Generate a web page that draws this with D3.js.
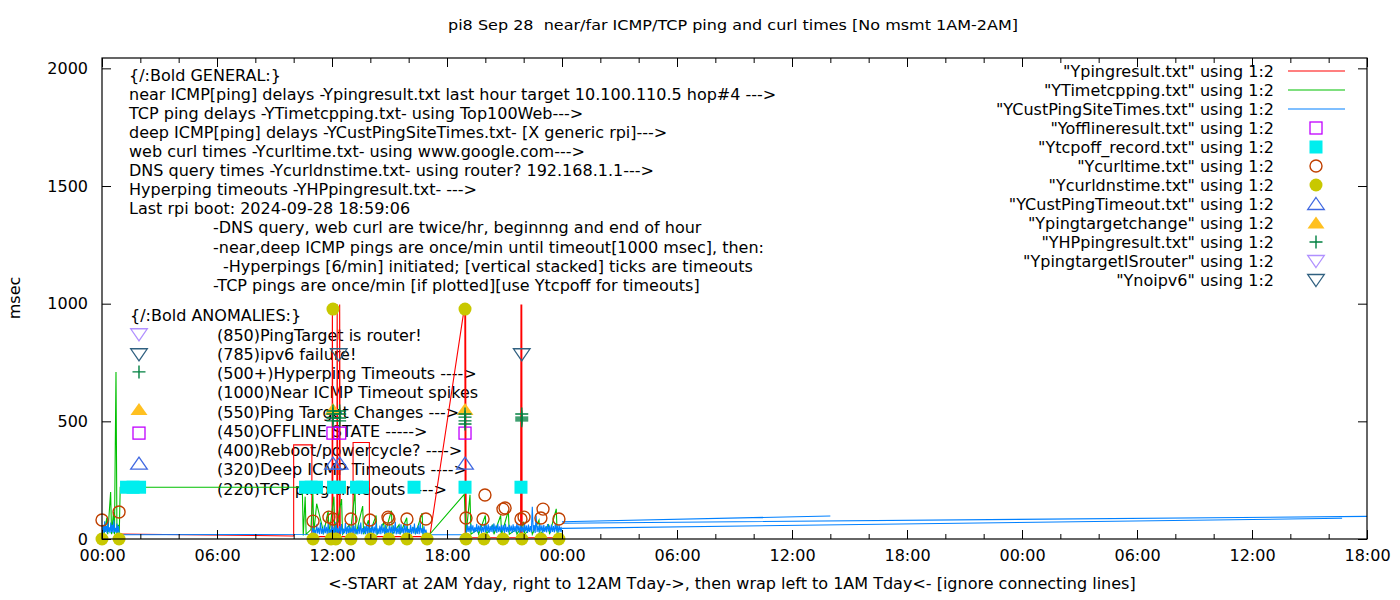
<!DOCTYPE html>
<html><head><meta charset="utf-8">
<script src="https://cdn.jsdelivr.net/npm/d3@7"></script>
<style>
body{margin:0;background:#fff;}
svg text{font-family:"DejaVu Sans",sans-serif;font-size:16px;fill:#000;white-space:pre;}
</style>
</head><body>
<svg id="c" width="1400" height="600"></svg>
<script>
// ---------- axis data ----------
const X_DOMAIN = [0, 66];          // hours from 00:00 Yday
const Y_DOMAIN = [0, 2044];        // msec
const xTickHours = [0, 6, 12, 18, 24, 30, 36, 42, 48, 54, 60, 66];
const xTickLabels = ["00:00","06:00","12:00","18:00","00:00","06:00","12:00","18:00","00:00","06:00","12:00","18:00"];
const xMinorHours = [2,4,8,10,14,16,20,22,26,28,32,34,38,40,44,46,50,52,56,58,62,64];
const yTicks = [0, 500, 1000, 1500, 2000];

const titleText = "pi8 Sep 28  near/far ICMP/TCP ping and curl times [No msmt 1AM-2AM]";
const xLabel = "<-START at 2AM Yday, right to 12AM Tday->, then wrap left to 1AM Tday<- [ignore connecting lines]";
const yLabel = "msec";

// ---------- series (hour, msec); null = break ----------
const pingResult = [[0.9,21],[10.0,13],[10.0,400],[10.95,400],[10.95,10],[12.0,10],[12.02,996],[12.05,10],[12.25,10],[12.27,996],[12.3,10],
  [12.38,10],[12.4,996],[12.43,10],[13.1,10],[13.1,410],[13.95,410],[13.95,10],[17.1,10],[18.93,996],[18.95,0],[18.97,996],[19.0,5],
  [21.84,5],[21.86,996],[21.88,0],[21.9,996],[21.92,5],[23.9,5]];

const tcpPing = [[0.1,20],[0.25,90],[0.3,20],[0.45,200],[0.5,20],[0.6,115],[0.65,20],[0.73,710],[0.78,20],[0.85,60],[0.9,20],[0.95,220],
  [10.45,220],[10.5,15],[10.6,180],[10.65,20],[10.9,40],[11.0,200],[11.05,25],[11.2,150],[11.5,50],[11.55,20],[11.8,120],[11.85,20],
  [12.1,180],[12.15,20],[12.5,170],[12.55,20],[12.9,60],[12.95,20],[13.2,200],[13.25,20],[13.6,140],[13.65,20],[13.9,80],[13.95,20],
  [14.3,100],[14.35,20],[14.7,70],[14.75,20],[15.1,120],[15.15,20],[15.5,60],[15.55,20],[15.9,90],[15.95,20],[16.3,50],[16.35,20],
  [16.7,110],[16.75,20],[17.1,20],[18.9,190],[19.0,20],[19.2,188],[19.25,20],[19.6,40],[19.65,20],[20.0,100],[20.05,20],[20.4,60],
  [20.45,20],[20.8,100],[20.85,20],[21.2,120],[21.25,20],[21.6,40],[21.65,20],[22.0,70],[22.05,20],[22.4,50],[22.45,20],[22.8,80],
  [22.85,20],[23.3,60],[23.35,20],[23.7,128],[23.75,20],[24.0,20]];

const custPingTimes = [[0.02,25],[0.06,60],[0.1,25],[0.14,75],[0.18,30],[0.22,55],[0.26,25],[0.3,90],[0.34,30],[0.38,50],[0.42,25],[0.46,70],
  [0.5,30],[0.54,60],[0.58,25],[0.62,80],[0.66,30],[0.7,48],[0.74,25],[0.78,66],[0.82,28],[0.86,55],[0.9,22],[0.95,18],
  [10.95,20],[11.0,55],[11.05,22],[11.1,40],[11.15,20],[11.2,62],[11.25,24],[11.3,48],[11.35,20],[11.4,70],[11.45,22],[11.5,45],[11.55,20],[11.6,58],[11.65,25],[11.7,52],[11.75,20],[11.8,66],[11.85,22],[11.9,42],[11.95,20],
  [12.0,60],[12.05,22],[12.1,50],[12.15,20],[12.2,72],[12.25,24],[12.3,47],[12.35,20],[12.4,55],[12.45,22],[12.5,63],[12.55,20],[12.6,44],[12.65,25],[12.7,68],[12.75,20],[12.8,52],[12.85,22],[12.9,58],[12.95,20],
  [13.0,49],[13.05,22],[13.1,65],[13.15,20],[13.2,57],[13.25,24],[13.3,42],[13.35,20],[13.4,61],[13.45,22],[13.5,70],[13.55,20],[13.6,46],[13.65,25],[13.7,54],[13.75,20],[13.8,59],[13.85,22],[13.9,66],[13.95,20],
  [14.0,48],[14.05,22],[14.1,62],[14.15,20],[14.2,53],[14.25,24],[14.3,71],[14.35,20],[14.4,45],[14.45,22],[14.5,57],[14.55,20],[14.6,64],[14.65,25],[14.7,50],[14.75,20],[14.8,60],[14.85,22],[14.9,44],[14.95,20],
  [15.0,67],[15.05,22],[15.1,52],[15.15,20],[15.2,58],[15.25,24],[15.3,73],[15.35,20],[15.4,47],[15.45,22],[15.5,56],[15.55,20],[15.6,62],[15.65,25],[15.7,49],[15.75,20],[15.8,68],[15.85,22],[15.9,55],[15.95,20],
  [16.0,43],[16.05,22],[16.1,60],[16.15,20],[16.2,52],[16.25,24],[16.3,66],[16.35,20],[16.4,48],[16.45,22],[16.5,58],[16.55,20],[16.6,70],[16.65,25],[16.7,46],[16.75,20],[16.8,54],[16.85,22],[16.9,40],[16.95,20],[17.05,18],
  [19.0,18],
  [19.05,60],[19.1,30],[19.15,55],[19.2,28],[19.25,62],[19.3,32],[19.35,58],[19.4,26],[19.45,50],[19.5,30],[19.55,64],[19.6,28],[19.65,57],[19.7,32],[19.75,60],[19.8,26],[19.85,52],[19.9,30],[19.95,66],[20.0,28],
  [20.05,58],[20.1,32],[20.15,62],[20.2,26],[20.25,55],[20.3,30],[20.35,60],[20.4,28],[20.45,66],[20.5,32],[20.55,57],[20.6,26],[20.65,63],[20.7,30],[20.75,54],[20.8,28],[20.85,60],[20.9,32],[20.95,58],[21.0,26],
  [21.05,65],[21.1,30],[21.15,52],[21.2,28],[21.25,60],[21.3,32],[21.35,57],[21.4,26],[21.45,62],[21.5,30],[21.55,55],[21.6,28],[21.65,70],[21.7,32],[21.75,58],[21.8,26],[21.85,60],[21.9,30],[21.95,53],[22.0,28],
  [22.05,64],[22.1,32],[22.15,57],[22.2,26],[22.25,61],[22.3,30],[22.35,55],[22.4,28],[22.45,137],[22.5,32],[22.55,59],[22.6,26],[22.65,100],[22.7,30],[22.75,56],[22.8,28],[22.85,62],[22.9,32],[22.95,58],[23.0,26],
  [23.05,60],[23.1,30],[23.15,54],[23.2,28],[23.25,63],[23.3,32],[23.35,57],[23.4,26],[23.45,61],[23.5,30],[23.55,55],[23.6,28],[23.65,65],[23.7,32],[23.75,58],[23.8,26],[23.85,60],[23.9,30],[23.95,52],[24.0,28],
  null,[24.0,73],[38.0,98],
  null,[24.0,67],[66.0,96],
  null,[24.0,45],[64.7,88]];

const offlineResult   = [[1.93,450],[12.05,450],[12.4,450],[18.94,450]];
const tcpOffRecord    = [[1.28,220],[1.62,220],[1.96,220],[10.62,220],[10.91,220],[11.19,220],[12.08,220],[12.39,220],[13.28,220],[13.59,220],[16.28,220],[18.94,220],[21.86,220]];
const curlTime        = [[0.0,81],[0.89,115],[11.01,76],[11.84,93],[12.05,85],[12.99,85],[13.98,81],[14.92,93],[14.97,85],[15.91,85],[16.9,85],
                         [18.99,89],[19.88,85],[19.98,187],[20.92,127],[21.03,132],[21.86,85],[22.02,93],[22.9,89],[23.01,127],[23.84,85]];
const curlDnsTime     = [[0.0,0],[0.89,0],[11.01,0],[11.95,0],[12.2,0],[12.99,0],[14.03,0],[14.97,0],[15.91,0],[16.96,0],[18.99,0],[19.93,0],
                         [20.92,0],[21.91,0],[22.9,0],[23.84,0],[12.05,977],[18.94,977]];
const custPingTimeout = [[1.93,320],[12.05,320],[12.4,320],[18.94,320]];
const pingTargetChange= [[1.93,550],[12.05,550],[18.94,550]];
const hpPingResult    = [[1.93,710],[12.05,502],[12.05,514],[12.05,531],[12.05,544],[12.4,502],[12.4,514],[12.4,531],[12.4,544],
                         [18.94,489],[18.94,502],[18.94,518],[18.94,531],[21.9,502],[21.9,510],[21.9,518],[21.9,531]];
const pingTargetIsRouter = [[1.93,870]];
const noIpv6          = [[1.93,785],[12.35,785],[21.9,785]];

const legendLabels = ['"Ypingresult.txt" using 1:2','"YTimetcpping.txt" using 1:2','"YCustPingSiteTimes.txt" using 1:2',
  '"Yofflineresult.txt" using 1:2','"Ytcpoff_record.txt" using 1:2','"Ycurltime.txt" using 1:2','"Ycurldnstime.txt" using 1:2',
  '"YCustPingTimeout.txt" using 1:2','"Ypingtargetchange" using 1:2','"YHPpingresult.txt" using 1:2',
  '"YpingtargetISrouter" using 1:2','"Ynoipv6" using 1:2'];

const generalLines = [
  [0,"{/:Bold GENERAL:}"],
  [0,"near ICMP[ping] delays -Ypingresult.txt last hour target 10.100.110.5 hop#4 --->"],
  [0,"TCP ping delays -YTimetcpping.txt- using Top100Web--->"],
  [0,"deep ICMP[ping] delays -YCustPingSiteTimes.txt- [X generic rpi]--->"],
  [0,"web curl times -Ycurltime.txt- using www.google.com--->"],
  [0,"DNS query times -Ycurldnstime.txt- using router? 192.168.1.1--->"],
  [0,"Hyperping timeouts -YHPpingresult.txt- --->"],
  [0,"Last rpi boot: 2024-09-28 18:59:06"],
  [1,"-DNS query, web curl are twice/hr, beginnng and end of hour"],
  [1,"-near,deep ICMP pings are once/min until timeout[1000 msec], then:"],
  [2,"-Hyperpings [6/min] initiated; [vertical stacked] ticks are timeouts"],
  [1,"-TCP pings are once/min [if plotted][use Ytcpoff for timeouts]"]];
const anomalyLines = ["(850)PingTarget is router!","(785)ipv6 failure!","(500+)Hyperping Timeouts ---->","(1000)Near ICMP Timeout spikes",
  "(550)Ping Target Changes --->","(450)OFFLINE STATE ----->","(400)Reboot/powercycle? ---->","(320)Deep ICMP Timeouts ---->","(220)TCP ping timeouts ---->"];

// ---------- layout ----------
const L = 102, R = 1367, T = 58, B = 539;
const svg = d3.select("#c");
const x = d3.scaleLinear().domain(X_DOMAIN).range([L, R]);
const y = d3.scaleLinear().domain(Y_DOMAIN).range([B, T]);

const COL = {ping:"#ff0000", tcp:"#00c000", cust:"#0080ff", off:"#c000ff", tcpoff:"#00eeee", curl:"#c04000",
  dns:"#c8c800", cpt:"#4169e1", tchg:"#ffc020", hp:"#008040", isr:"#b090ff", v6:"#306080"};

// texts (behind data)
svg.append("text").attr("x", 448).attr("y", 25).attr("dy","0.35em").attr("textLength",570)
  .attr("lengthAdjust","spacingAndGlyphs").style("font-size","14.8px").text(titleText);
svg.append("text").attr("x", 732).attr("y", 583).attr("dy","0.35em").attr("text-anchor","middle").text(xLabel);
svg.append("text").attr("transform","translate(14,298) rotate(-90)").attr("dy","0.35em").attr("text-anchor","middle").text(yLabel);

const indentX = [129, 213, 223];
generalLines.forEach((d,i)=>{
  svg.append("text").attr("x", indentX[d[0]]).attr("y", 75 + i*19.1).attr("dy","0.35em").text(d[1]);
});
svg.append("text").attr("x",130).attr("y",315).attr("dy","0.35em").text("{/:Bold ANOMALIES:}");
anomalyLines.forEach((t,i)=>{
  svg.append("text").attr("x",217).attr("y",335 + i*19.25).attr("dy","0.35em").text(t);
});

// clip for lines
svg.append("clipPath").attr("id","pc").append("rect").attr("x",L).attr("y",T).attr("width",R-L).attr("height",B-T);

const lineGen = d3.line().defined(d=>d!==null).x(d=>x(d[0])).y(d=>y(d[1]));
function drawLine(data,col){
  svg.append("path").attr("clip-path","url(#pc)").attr("d",lineGen(data)).attr("fill","none")
    .attr("stroke",col).attr("stroke-width",1.1);
}
drawLine(pingResult, COL.ping);
drawLine(tcpPing, COL.tcp);
drawLine(custPingTimes, COL.cust);

// symbols
function sym(kind, cx, cy){
  const g = svg.append("g").attr("transform",`translate(${cx},${cy})`);
  switch(kind){
    case "off": g.append("rect").attr("x",-6).attr("y",-6).attr("width",12).attr("height",12).attr("fill","none").attr("stroke",COL.off).attr("stroke-width",1.3); break;
    case "tcpoff": g.append("rect").attr("x",-6.5).attr("y",-6.5).attr("width",13).attr("height",13).attr("fill",COL.tcpoff); break;
    case "curl": g.append("circle").attr("r",6).attr("fill","none").attr("stroke",COL.curl).attr("stroke-width",1.4); break;
    case "dns": g.append("circle").attr("r",6.5).attr("fill",COL.dns); break;
    case "cpt": g.append("path").attr("d","M0,-6.5L8.3,5.5L-8.3,5.5Z").attr("fill","none").attr("stroke",COL.cpt).attr("stroke-width",1.3); break;
    case "tchg": g.append("path").attr("d","M0,-6.5L8.5,5.5L-8.5,5.5Z").attr("fill",COL.tchg); break;
    case "hp": g.append("path").attr("d","M-6.5,0H6.5M0,-6.5V6.5").attr("stroke",COL.hp).attr("stroke-width",1.4); break;
    case "isr": g.append("path").attr("d","M0,6.5L8.3,-5.5L-8.3,-5.5Z").attr("fill","none").attr("stroke",COL.isr).attr("stroke-width",1.3); break;
    case "v6": g.append("path").attr("d","M0,6.5L8.3,-5.5L-8.3,-5.5Z").attr("fill","none").attr("stroke",COL.v6).attr("stroke-width",1.3); break;
  }
}
function drawPts(data, kind){ data.forEach(d=>sym(kind, x(d[0]), y(d[1]))); }
drawPts(offlineResult,"off");
drawPts(tcpOffRecord,"tcpoff");
drawPts(curlTime,"curl");
drawPts(curlDnsTime,"dns");
drawPts(custPingTimeout,"cpt");
drawPts(pingTargetChange,"tchg");
drawPts(hpPingResult,"hp");
drawPts(pingTargetIsRouter,"isr");
drawPts(noIpv6,"v6");

// legend
const legendKinds = ["L:ping","L:tcp","L:cust","off","tcpoff","curl","dns","cpt","tchg","hp","isr","v6"];
legendLabels.forEach((lab,i)=>{
  const yy = 71 + i*19;
  svg.append("text").attr("x",1274).attr("y",yy).attr("dy","0.35em").attr("text-anchor","end").text(lab);
  const k = legendKinds[i];
  if(k.startsWith("L:")){
    svg.append("line").attr("x1",1288).attr("x2",1345).attr("y1",yy).attr("y2",yy).attr("stroke",COL[k.slice(2)]).attr("stroke-width",1.1);
  } else sym(k,1316,yy);
});

// axes
function styleAxis(g){ g.select(".domain").remove(); g.selectAll("line").attr("stroke","#000"); g.selectAll("text").attr("font-size",null).attr("font-family",null).attr("fill","#000"); }
svg.append("g").attr("transform",`translate(0,${B})`)
  .call(d3.axisBottom(x).tickValues(xTickHours).tickFormat((d,i)=>xTickLabels[i]).tickSize(-9).tickSizeOuter(0).tickPadding(11)).call(styleAxis);
svg.append("g").attr("transform",`translate(0,${B})`)
  .call(d3.axisBottom(x).tickValues(xMinorHours).tickFormat("").tickSize(-5).tickSizeOuter(0)).call(styleAxis);
svg.append("g").attr("transform",`translate(0,${T})`)
  .call(d3.axisTop(x).tickValues(xTickHours).tickFormat("").tickSize(-9).tickSizeOuter(0)).call(styleAxis);
svg.append("g").attr("transform",`translate(0,${T})`)
  .call(d3.axisTop(x).tickValues(xMinorHours).tickFormat("").tickSize(-5).tickSizeOuter(0)).call(styleAxis);
svg.append("g").attr("transform",`translate(${L},0)`)
  .call(d3.axisLeft(y).tickValues(yTicks).tickFormat(d3.format("d")).tickSize(-9).tickSizeOuter(0).tickPadding(14)).call(styleAxis);
svg.append("g").attr("transform",`translate(${R},0)`)
  .call(d3.axisRight(y).tickValues(yTicks).tickFormat("").tickSize(-9).tickSizeOuter(0)).call(styleAxis);
svg.append("rect").attr("x",L).attr("y",T).attr("width",R-L).attr("height",B-T).attr("fill","none").attr("stroke","#000").attr("stroke-width",1.2);
</script>
</body></html>
